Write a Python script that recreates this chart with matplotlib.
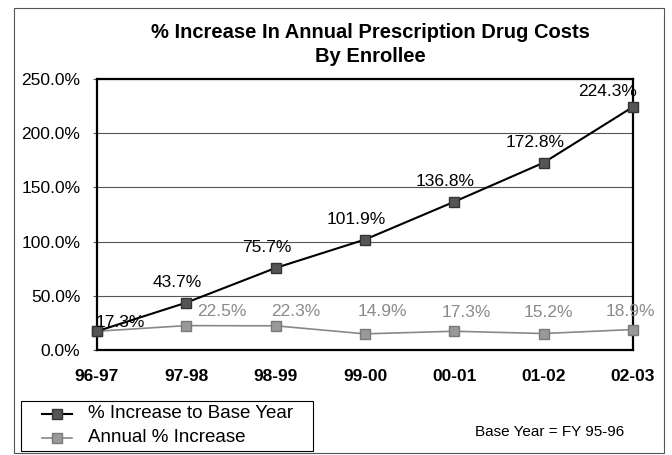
import matplotlib.pyplot as plt
from matplotlib.lines import Line2D
from matplotlib.patches import Rectangle

years = ["96-97", "97-98", "98-99", "99-00", "00-01", "01-02", "02-03"]
base_year = [17.3, 43.7, 75.7, 101.9, 136.8, 172.8, 224.3]
annual = [17.3, 22.5, 22.3, 14.9, 17.3, 15.2, 18.9]
yticks = [0, 50, 100, 150, 200, 250]

# label offsets in pixels (dx, dy up) -- Excel put them a bit off-centre
base_offsets = [(23, 9), (-9, 20), (-9, 20), (-9, 20), (-9, 20), (-9, 20), (-25, 15)]
annual_offsets = [None, (35, 14), (20, 14), (17, 22), (12, 19), (5, 21), (-3, 18)]

W, H = 672, 455


def fx(px):
    return px / W


def fy(py):
    return 1 - py / H


def main():
    plt.rcParams["font.family"] = ["Liberation Sans", "DejaVu Sans"]
    fig = plt.figure(figsize=(6.72, 4.55), dpi=100)
    fig.set_facecolor("white")
    ax = fig.add_axes([fx(97), fy(350), (633 - 97) / W, (350 - 79) / H])

    x = list(range(len(years)))
    dark = dict(color="black", lw=1.5, marker="s", ms=7.5, mfc="#555555", mec="#333333")
    light = dict(color="#888888", lw=1.2, marker="s", ms=7.5, mfc="#999999", mec="#7a7a7a")
    ax.plot(x, annual, zorder=3, clip_on=False, **light)
    ax.plot(x, base_year, zorder=4, clip_on=False, **dark)

    for i, v in enumerate(base_year):
        dx, dy = base_offsets[i]
        ax.annotate(f"{v:.1f}%", (i, v), xytext=(dx * 0.72, dy * 0.72),
                    textcoords="offset points", ha="center", va="center",
                    fontsize=12.5, color="black", zorder=5)
    for i, v in enumerate(annual):
        if annual_offsets[i] is None:
            continue
        dx, dy = annual_offsets[i]
        ax.annotate(f"{v:.1f}%", (i, v), xytext=(dx * 0.72, dy * 0.72),
                    textcoords="offset points", ha="center", va="center",
                    fontsize=12.5, color="#8a8a8a", zorder=5)

    ax.set_xlim(0, len(years) - 1)
    ax.set_ylim(0, 250)
    ax.set_yticks(yticks)
    ax.set_yticklabels([f"{t:.1f}%" for t in yticks], fontsize=12.5)
    ax.set_xticks(x)
    ax.set_xticklabels(years, fontsize=12.5, fontweight="bold")
    ax.tick_params(axis="x", length=0, pad=14)
    ax.tick_params(axis="y", length=3, pad=9, color="#555555")
    ax.grid(axis="y", color="#555555", lw=0.8)
    for s in ax.spines.values():
        s.set_linewidth(1.6)
    ax.set_axisbelow(True)

    fig.text(fx(370), fy(33), "% Increase In Annual Prescription Drug Costs",
             ha="center", va="center", fontsize=14.5, fontweight="bold")
    fig.text(fx(370), fy(57), "By Enrollee",
             ha="center", va="center", fontsize=14.5, fontweight="bold")

    # legend drawn by hand so the box lands where the original has it
    fig.add_artist(Rectangle((fx(21), fy(451)), (313 - 21) / W, (451 - 401) / H,
                             transform=fig.transFigure, fill=False,
                             edgecolor="black", lw=0.8))
    for ypx, style, label in [(414, dark, "% Increase to Base Year"),
                              (438, light, "Annual % Increase")]:
        fig.add_artist(Line2D([fx(42), fx(72)], [fy(ypx), fy(ypx)],
                              transform=fig.transFigure, **{**style, "marker": None}))
        fig.add_artist(Line2D([fx(57)], [fy(ypx)], transform=fig.transFigure,
                              **{**style, "lw": 0}))
        fig.text(fx(88), fy(ypx), label, ha="left", va="center", fontsize=13.5)

    fig.text(fx(550), fy(432), "Base Year = FY 95-96", ha="center",
             va="center", fontsize=11)

    fig.add_artist(Rectangle((fx(14), fy(453)), (664 - 14) / W, (453 - 8) / H,
                             transform=fig.transFigure, fill=False,
                             edgecolor="#555555", lw=0.8))

    fig.savefig("out.png", dpi=100, facecolor="white")


if __name__ == "__main__":
    main()
